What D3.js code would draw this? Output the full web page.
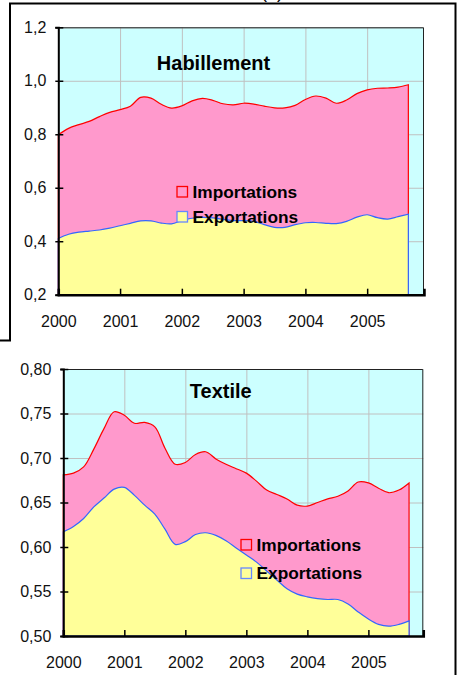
<!DOCTYPE html>
<html>
<head>
<meta charset="utf-8">
<script src="https://cdn.jsdelivr.net/npm/d3@7"></script>
<style>
  body { margin: 0; background: #fff; }
  svg { display: block; font-family: "Liberation Sans", Arial, sans-serif; }
</style>
</head>
<body>
<svg id="chart" width="462" height="675"></svg>
<script>
// months read every two months, Jan 2000 .. Sep 2005
const months = [
  "2000-01","2000-03","2000-05","2000-07","2000-09","2000-11",
  "2001-01","2001-03","2001-05","2001-07","2001-09","2001-11",
  "2002-01","2002-03","2002-05","2002-07","2002-09","2002-11",
  "2003-01","2003-03","2003-05","2003-07","2003-09","2003-11",
  "2004-01","2004-03","2004-05","2004-07","2004-09","2004-11",
  "2005-01","2005-03","2005-05","2005-07","2005-09"
];

const habImports = [0.798,0.822,0.836,0.848,0.866,0.882,0.892,0.905,0.938,0.935,0.912,0.898,
  0.906,0.925,0.934,0.927,0.914,0.910,0.916,0.913,0.905,0.899,0.899,0.908,
  0.930,0.943,0.935,0.916,0.928,0.952,0.966,0.972,0.973,0.976,0.985];
const habExports = [0.410,0.426,0.434,0.438,0.442,0.449,0.458,0.467,0.476,0.476,0.468,0.465,
  0.477,0.486,0.489,0.487,0.482,0.477,0.477,0.474,0.462,0.452,0.452,0.462,
  0.469,0.470,0.467,0.466,0.474,0.490,0.499,0.488,0.483,0.492,0.501];

const texImports = [0.681,0.683,0.690,0.710,0.733,0.752,0.748,0.739,0.740,0.735,0.711,0.693,
  0.695,0.704,0.707,0.699,0.693,0.688,0.683,0.674,0.664,0.659,0.654,0.647,
  0.646,0.650,0.654,0.657,0.663,0.673,0.672,0.666,0.661,0.664,0.672];
const texExports = [0.617,0.623,0.632,0.645,0.655,0.665,0.667,0.658,0.647,0.637,0.620,0.603,
  0.606,0.614,0.616,0.613,0.607,0.599,0.591,0.583,0.573,0.563,0.553,0.547,
  0.544,0.542,0.541,0.541,0.536,0.527,0.519,0.513,0.511,0.513,0.517];

const yearTicks = [2000, 2001, 2002, 2003, 2004, 2005];
const habYTicks = [0.2, 0.4, 0.6, 0.8, 1.0, 1.2];
const texYTicks = [0.50, 0.55, 0.60, 0.65, 0.70, 0.75, 0.80];
const seriesNames = ["Importations", "Exportations"];

const colors = {
  bg: "#ccffff", grid: "#c0c0c0",
  impFill: "#ff99cc", impLine: "#ff0000",
  expFill: "#ffff99", expLine: "#3366ff"
};

const frLocale = d3.formatLocale({decimal: ",", thousands: " ", grouping: [3], currency: ["", " €"]});

const toYear = s => { const [y, m] = s.split("-").map(Number); return y + (m - 1) / 12; };

const svg = d3.select("#chart");

function drawPanel(p) {
  const w = p.right - p.left, h = p.bottom - p.top;
  const x = d3.scaleLinear().domain([2000, p.xMax]).range([0, w]);
  const y = d3.scaleLinear().domain(p.yDomain).range([h, 0]);
  const g = svg.append("g").attr("transform", `translate(${p.left},${p.top})`);

  g.append("rect").attr("width", w).attr("height", h).attr("fill", colors.bg);

  // grid
  g.append("g").attr("transform", `translate(0,${h})`)
    .call(d3.axisBottom(x).tickValues(yearTicks).tickSize(-h).tickFormat(""))
    .call(s => s.select(".domain").remove())
    .selectAll("line").attr("stroke", colors.grid);
  g.append("g")
    .call(d3.axisLeft(y).tickValues(p.yTicks).tickSize(-w).tickFormat(""))
    .call(s => s.select(".domain").remove())
    .selectAll("line").attr("stroke", colors.grid);

  const rows = months.map((m, i) => ({t: toYear(m), imp: p.imp[i], exp: p.exp[i]}));
  const curve = d3.curveCatmullRom.alpha(0.5);
  const areaOf = key => d3.area().curve(curve)
    .x(d => x(d.t)).y0(h).y1(d => y(d[key]));

  g.append("path").datum(rows).attr("d", areaOf("imp"))
    .attr("fill", colors.impFill).attr("stroke", colors.impLine).attr("stroke-width", 1.2);
  g.append("path").datum(rows).attr("d", areaOf("exp"))
    .attr("fill", colors.expFill).attr("stroke", colors.expLine).attr("stroke-width", 1.2);

  // top / right frame
  g.append("path").attr("d", `M0,0.5H${w - 0.5}V${h}`)
    .attr("fill", "none").attr("stroke", "#222").attr("stroke-width", 1);

  // axes
  const fmt = frLocale.format(p.yFormat);
  const yAxis = g.append("g")
    .call(d3.axisLeft(y).tickValues(p.yTicks).tickSize(3).tickPadding(9).tickFormat(fmt));
  yAxis.select(".domain").attr("stroke", "#000").attr("stroke-width", 2);
  yAxis.selectAll(".tick line").attr("x2", -3).attr("x1", 5).attr("stroke", "#000").attr("stroke-width", 1.5);
  yAxis.selectAll("text").attr("font-size", 16).attr("fill", "#111");

  const xAxis = g.append("g").attr("transform", `translate(0,${h})`)
    .call(d3.axisBottom(x).tickValues(yearTicks).tickSizeOuter(0).tickSize(-6).tickPadding(21).tickFormat(d3.format("d")));
  xAxis.select(".domain").attr("stroke", "#000").attr("stroke-width", 2.5);
  xAxis.selectAll(".tick line").attr("stroke", "#000").attr("stroke-width", 1.5);
  xAxis.selectAll("text").attr("font-size", 16).attr("fill", "#111");

  g.append("text").attr("x", p.titleX - p.left).attr("y", p.titleY - p.top)
    .attr("text-anchor", "middle").attr("font-weight", "bold").attr("font-size", 20)
    .attr("fill", "#000").text(p.title);

  // legend
  const leg = g.append("g").attr("transform", `translate(${p.legX - p.left},${p.legY - p.top})`);
  const items = leg.selectAll("g").data(seriesNames).join("g")
    .attr("transform", (d, i) => `translate(0,${i * p.legGap})`);
  items.append("rect").attr("x", 0.5).attr("y", -11).attr("width", 10.5).attr("height", 10.5)
    .attr("fill", (d, i) => i === 0 ? colors.impFill : colors.expFill)
    .attr("stroke", (d, i) => i === 0 ? colors.impLine : "#6688ff").attr("stroke-width", 1.3);
  items.append("text").attr("x", 16).attr("y", 0)
    .attr("font-weight", "bold").attr("font-size", 17.3).attr("fill", "#000").text(d => d);
}

drawPanel({
  left: 58.3, right: 424, top: 27.3, bottom: 294.7, xMax: 2005.92,
  yDomain: [0.2, 1.2], yTicks: habYTicks, yFormat: ".1f",
  imp: habImports, exp: habExports,
  title: "Habillement", titleX: 213.5, titleY: 70,
  legX: 176.5, legY: 197.5, legGap: 25
});

drawPanel({
  left: 63.3, right: 423.3, top: 369, bottom: 636, xMax: 2005.9,
  yDomain: [0.5, 0.8], yTicks: texYTicks, yFormat: ".2f",
  imp: texImports, exp: texExports,
  title: "Textile", titleX: 220.8, titleY: 397.5,
  legX: 240.5, legY: 550.5, legGap: 28.5
});

// page frame fragments
const frame = svg.append("g").attr("fill", "none").attr("stroke", "#000").attr("stroke-width", 2);
frame.append("path").attr("d", "M0,340.5H10V3.5H455.5V675");
// caption of the page above, cut off at the top edge as in the source
svg.append("text").attr("x", 272).attr("y", -2).attr("text-anchor", "middle")
  .attr("font-size", 18).text("(a)");
</script>
</body>
</html>
